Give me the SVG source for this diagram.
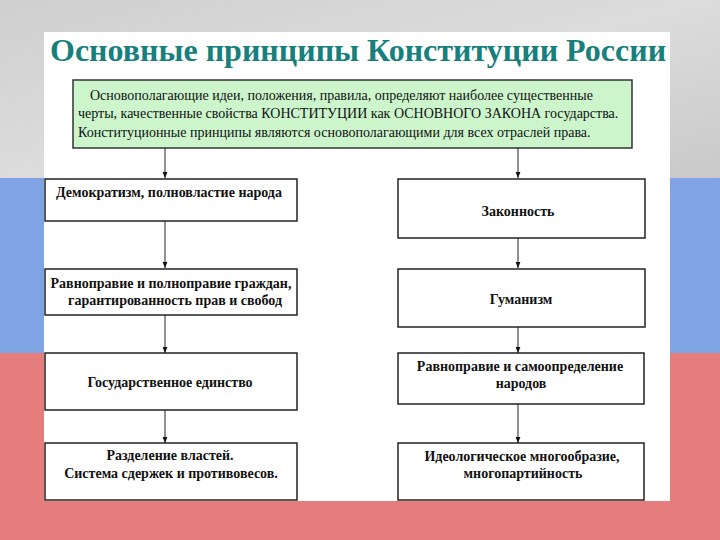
<svg xmlns="http://www.w3.org/2000/svg" width="720" height="540" viewBox="0 0 720 540">
<style>
.box{fill:#ffffff;stroke:#222;stroke-width:1.5}
.t{font-size:14px;font-weight:bold;fill:#111;text-anchor:middle}
.p{font-size:14px;fill:#111}
.c{stroke:#222;stroke-width:1;fill:none;marker-end:url(#arr)}
</style>
<defs>
<linearGradient id="gray" x1="0" y1="0" x2="1" y2="1">
<stop offset="0" stop-color="#cfcfcf"/>
<stop offset="0.5" stop-color="#dcdcdc"/>
<stop offset="1" stop-color="#c9c9c9"/>
</linearGradient>
<marker id="arr" viewBox="0 0 10 10" refX="10" refY="5" markerWidth="6" markerHeight="6" orient="auto">
<path d="M0,1 L10,5 L0,9 z" fill="#111"/>
</marker>
</defs>
<rect x="0" y="0" width="720" height="180" fill="url(#gray)"/>
<rect x="0" y="178" width="720" height="176" fill="#80a3e3"/>
<rect x="0" y="353" width="720" height="187" fill="#e67d7d"/>
<rect x="44" y="32" width="626" height="469" fill="#ffffff"/>
<text x="50" y="61" font-family="Liberation Serif" font-size="32" font-weight="bold" fill="#17807d">Основные принципы Конституции России</text>
<g id="top">
<rect x="73" y="80" width="559" height="68" fill="#ccf5cc" stroke="#333" stroke-width="1.5"/>
<text class="p" font-family="Liberation Serif" x="90" y="100">Основополагающие идеи, положения, правила, определяют наиболее существенные</text>
<text class="p" font-family="Liberation Serif" x="78" y="118">черты, качественные свойства КОНСТИТУЦИИ как ОСНОВНОГО ЗАКОНА государства.</text>
<text class="p" font-family="Liberation Serif" x="78" y="137">Конституционные принципы являются основополагающими для всех отраслей права.</text>
</g>
<g id="connectors">
<line class="c" x1="165" y1="148" x2="165" y2="178"/>
<line class="c" x1="518" y1="148" x2="518" y2="178"/>
<line class="c" x1="165" y1="221" x2="165" y2="268"/>
<line class="c" x1="165" y1="315" x2="165" y2="353"/>
<line class="c" x1="165" y1="410" x2="165" y2="443"/>
<line class="c" x1="518" y1="238" x2="518" y2="268"/>
<line class="c" x1="518" y1="327" x2="518" y2="353"/>
<line class="c" x1="518" y1="404" x2="518" y2="443"/>
</g>
<g id="l1"><rect class="box" x="45" y="179" width="252" height="42"/><text class="t" font-family="Liberation Serif" x="169" y="197">Демократизм, полновластие народа</text></g>
<g id="l2"><rect class="box" x="45" y="269" width="252" height="46"/><text class="t" font-family="Liberation Serif" x="171" y="288">Равноправие и полноправие граждан,</text><text class="t" font-family="Liberation Serif" x="175" y="305">гарантированность прав и свобод</text></g>
<g id="l3"><rect class="box" x="45" y="353" width="252" height="57"/><text class="t" font-family="Liberation Serif" x="170" y="387">Государственное  единство</text></g>
<g id="l4"><rect class="box" x="45" y="443" width="252" height="57"/><text class="t" font-family="Liberation Serif" x="170" y="460">Разделение  властей.</text><text class="t" font-family="Liberation Serif" x="171" y="478">Система сдержек и противовесов.</text></g>
<g id="r1"><rect class="box" x="398" y="179" width="247" height="59"/><text class="t" font-family="Liberation Serif" x="518" y="216">Законность</text></g>
<g id="r2"><rect class="box" x="398" y="269" width="247" height="58"/><text class="t" font-family="Liberation Serif" x="521" y="304">Гуманизм</text></g>
<g id="r3"><rect class="box" x="398" y="353" width="246" height="51"/><text class="t" font-family="Liberation Serif" x="520" y="371">Равноправие и самоопределение</text><text class="t" font-family="Liberation Serif" x="521" y="388">народов</text></g>
<g id="r4"><rect class="box" x="398" y="443" width="246" height="57"/><text class="t" font-family="Liberation Serif" x="522" y="461">Идеологическое многообразие,</text><text class="t" font-family="Liberation Serif" x="523" y="478">многопартийность</text></g>
</svg>
